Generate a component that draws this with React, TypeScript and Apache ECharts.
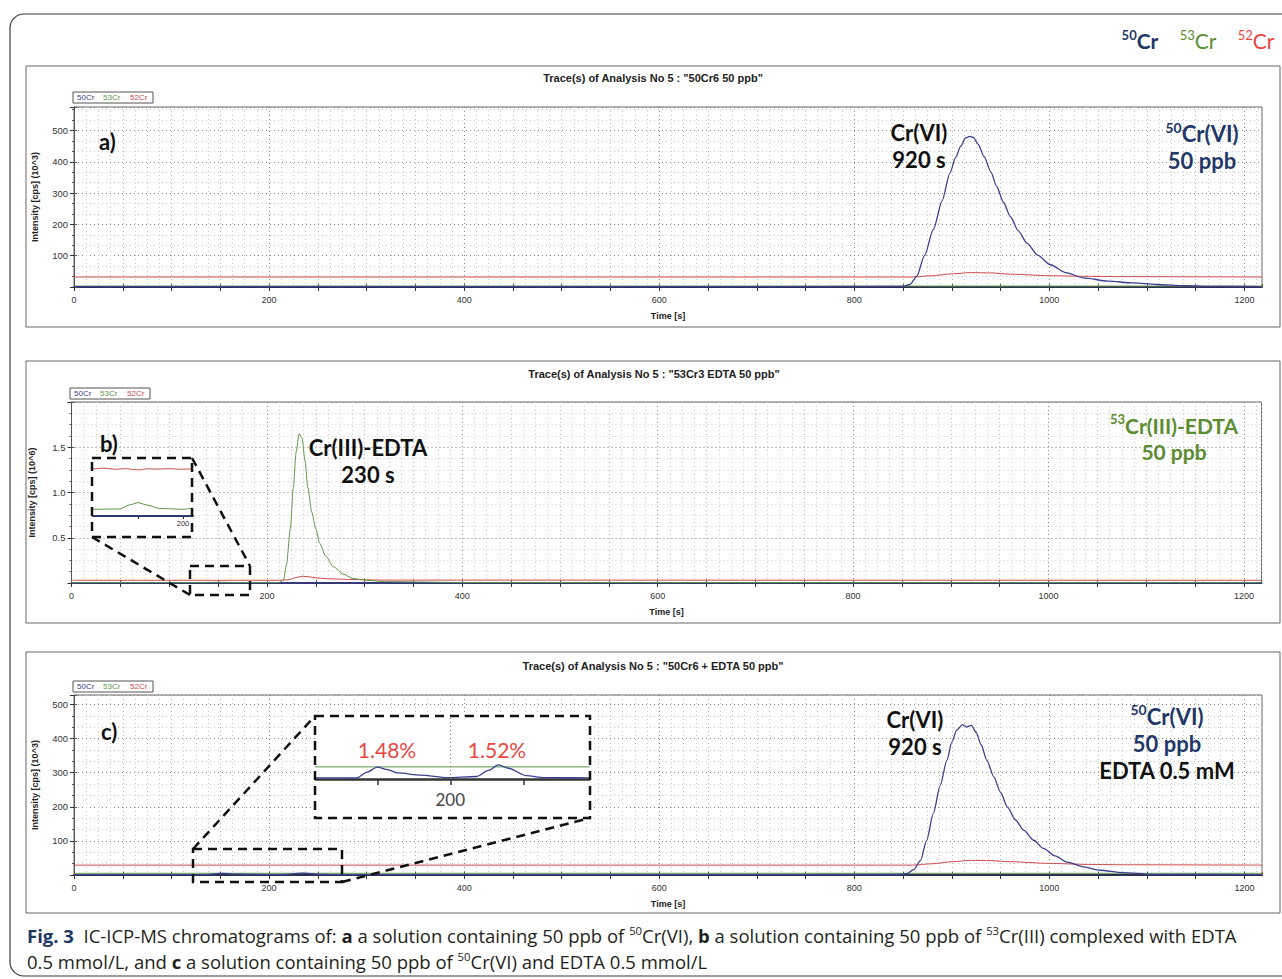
import React, { useEffect, useRef } from "react";
import * as echarts from "echarts";

const W = 1282;
const H = 979;

// ---------------- data ----------------
const X_MAX = 1218;
const X_LABELS = [0, 200, 400, 600, 800, 1000, 1200];
const Y_LABELS_3 = [100, 200, 300, 400, 500];
const Y_LABELS_6 = [0.5, 1.0, 1.5];

// (a) 50Cr(VI) 50 ppb  [10^3 cps]
const aBlueT = [0, 300, 600, 850, 857, 864, 872, 881, 890, 898, 904, 909, 914, 918, 922, 927, 933, 940, 946, 953, 960, 968, 977, 988, 1001, 1017, 1035, 1060, 1086, 1110, 1138, 1170, 1218];
const aBlueV = [1, 1, 1, 2, 8, 34, 100, 183, 275, 364, 415, 449, 476, 481, 478, 456, 417, 368, 321, 270, 225, 180, 140, 102, 71, 46, 29, 19, 13, 8, 4, 2, 1];
const aRedT = [0, 400, 860, 880, 900, 920, 940, 960, 1000, 1040, 1080, 1218];
const aRedV = [32, 32, 32, 36, 42, 46, 45, 41, 36, 34, 33, 32];
const aGreenT = [0, 1218];
const aGreenV = [3, 3];

// (b) 53Cr(III)-EDTA 50 ppb  [10^6 cps]
const bGreenT = [0, 100, 130, 140, 150, 160, 174, 200, 212, 217, 220, 224, 227, 230, 233, 236, 239, 242, 246, 250, 254, 260, 268, 278, 288, 302, 320, 400, 1218];
const bGreenV = [0.0043, 0.0043, 0.0045, 0.007, 0.0085, 0.007, 0.0048, 0.0043, 0.005, 0.03, 0.2, 0.6, 1.05, 1.45, 1.65, 1.6, 1.35, 1.05, 0.78, 0.6, 0.44, 0.3, 0.18, 0.1, 0.05, 0.03, 0.015, 0.006, 0.0043];
const bRedT = [0, 100, 112, 125, 137, 145, 152, 160, 172, 185, 197, 210, 222, 230, 236, 242, 252, 265, 290, 320, 1218];
const bRedV = [0.03, 0.03, 0.0305, 0.0298, 0.0302, 0.0296, 0.0294, 0.0301, 0.0299, 0.0302, 0.0298, 0.03, 0.035, 0.06, 0.075, 0.07, 0.055, 0.045, 0.038, 0.032, 0.03];
const bBlueT = [0, 1218];
const bBlueV = [0, 0];

// (c) 50Cr(VI) + EDTA 0.5 mM  [10^3 cps]
const cBlueT = [0, 108, 136, 143, 150, 157, 164, 180, 198, 218, 226, 233, 240, 252, 264, 300, 600, 845, 854, 861, 868, 874, 881, 888, 895, 900, 905, 911, 915, 920, 925, 930, 936, 943, 950, 957, 965, 974, 984, 994, 1006, 1018, 1035, 1052, 1075, 1104, 1218];
const cBlueV = [1, 1, 1, 3.1, 4.9, 4.0, 2.8, 2.0, 1.1, 1.5, 3.7, 5.7, 4.5, 1.8, 1.1, 1, 1, 1.5, 4, 16, 43, 100, 180, 262, 337, 390, 425, 441, 434, 439, 418, 382, 336, 288, 242, 200, 162, 131, 102, 78, 56, 38, 24, 14, 7, 2, 1];
const cRedT = [0, 400, 860, 880, 900, 920, 940, 960, 1000, 1040, 1080, 1218];
const cRedV = [29, 29, 29, 33, 39, 43, 42, 39, 34, 31, 30, 29];
const cGreenT = [0, 1218];
const cGreenV = [5, 5];

// ---------------- styles ----------------
const C_BLUE = "#3b3f8f";
const C_GREEN = "#5e9648";
const C_RED = "#cc4b4b";
const T_NAVY = "#1f3868";
const T_GREEN = "#5b8c30";
const T_RED = "#e8463f";
const AXF = "'Liberation Sans', Arial, sans-serif";
const F_ANN = "Lato, 'Open Sans', sans-serif";
const F_CAP = "'Open Sans', 'Noto Sans', sans-serif";

const zip = (t: number[], v: number[]) => t.map((x, i) => [x, v[i]]);

const line = (name: string, color: string, t: number[], v: number[], idx: number, width = 1, z = 2) => ({
  type: "line",
  name,
  xAxisIndex: idx,
  yAxisIndex: idx,
  data: zip(t, v),
  showSymbol: false,
  symbol: "none",
  smooth: 0.25,
  smoothMonotone: "x",
  silent: true,
  clip: true,
  z,
  lineStyle: { color, width },
});

function xMain(gridIndex: number) {
  return {
    type: "value",
    gridIndex,
    min: 0,
    max: X_MAX,
    interval: 50,
    axisLine: { show: true, onZero: false, lineStyle: { color: "#2f2f4f", width: 2 } },
    axisTick: { show: true, length: 4, lineStyle: { color: "#333" } },
    axisLabel: {
      show: true,
      interval: 0,
      showMaxLabel: false,
      formatter: (v: number) => (X_LABELS.includes(v) ? String(v) : ""),
      color: "#333",
      fontSize: 9,
      fontFamily: AXF,
      margin: 8,
    },
    splitLine: {
      show: true,
      lineStyle: { color: ["#858585", "#b8b8b8", "#b8b8b8", "#b8b8b8"], type: [1, 3], width: 1 },
    },
    minorTick: { show: false, splitNumber: 4 },
    minorSplitLine: { show: true, lineStyle: { color: "#c8c8c8", type: [1, 3], width: 1 } },
    name: "Time [s]",
    nameLocation: "middle",
    nameGap: 24,
    nameTextStyle: { fontSize: 9, fontWeight: "bold", color: "#222", fontFamily: AXF },
    z: 0,
  };
}

function xTop(gridIndex: number) {
  return {
    type: "value",
    gridIndex,
    position: "top",
    min: 0,
    max: X_MAX,
    interval: 50,
    axisLine: { show: false },
    axisTick: { show: true, length: 3, lineStyle: { color: "#555" } },
    axisLabel: { show: false },
    splitLine: { show: false },
  };
}

function yMain(gridIndex: number, max: number, interval: number, minorSplit: number, name: string, labels: number[], digits: number) {
  return {
    type: "value",
    gridIndex,
    min: 0,
    max,
    interval,
    axisLine: { show: true, lineStyle: { color: "#555", width: 1 } },
    axisTick: { show: true, length: 4, lineStyle: { color: "#333" } },
    minorTick: { show: true, splitNumber: minorSplit, length: 2, lineStyle: { color: "#555" } },
    axisLabel: {
      show: true,
      showMaxLabel: false,
      formatter: (v: number) => {
        const hit = labels.some((l) => Math.abs(l - v) < 1e-6);
        return hit ? v.toFixed(digits) : "";
      },
      color: "#333",
      fontSize: 9.5,
      fontFamily: AXF,
      margin: 6,
    },
    splitLine: { show: true, lineStyle: { color: "#858585", type: [1, 3], width: 1 } },
    minorSplitLine: { show: true, lineStyle: { color: "#c8c8c8", type: [1, 3], width: 1 } },
    name,
    nameLocation: "middle",
    nameGap: 35,
    nameRotate: 90,
    nameTextStyle: { fontSize: 9, fontWeight: "bold", color: "#222", fontFamily: AXF },
    z: 0,
  };
}

function yRight(gridIndex: number, max: number, interval: number) {
  return {
    type: "value",
    gridIndex,
    position: "right",
    min: 0,
    max,
    interval,
    axisLine: { show: false },
    axisTick: { show: true, length: 3, lineStyle: { color: "#555" } },
    axisLabel: { show: false },
    splitLine: { show: false },
  };
}

const txt = (x: number, y: number, text: string, style: any, z = 20) => ({
  type: "text",
  x,
  y,
  z,
  silent: true,
  style: { text, align: "center", verticalAlign: "middle", ...style },
});

// multi-line annotation block: lines are rich strings
const block = (x: number, y: number, lines: string[], size: number, lh: number, colors: Record<string, string>) => {
  const rich: Record<string, any> = {};
  Object.keys(colors).forEach((k) => {
    rich[k] = { fill: colors[k], fontSize: size, fontWeight: "bold", fontFamily: F_ANN, lineHeight: lh };
    rich[k + "s"] = { fill: colors[k], fontSize: Math.round(size * 0.62), fontWeight: "bold", fontFamily: F_ANN, verticalAlign: "top", lineHeight: Math.round(size * 0.8) };
  });
  return txt(x, y, lines.join("\n"), { rich });
};

const legendSup = (x: number, y: number, sup: string, fill: string, weight: string) =>
  txt(x, y, `{s|${sup}}{m|Cr}`, {
    rich: {
      s: { fill, fontSize: 13, fontWeight: weight, fontFamily: F_ANN, verticalAlign: "top", lineHeight: 16 },
      m: { fill, fontSize: 21, fontWeight: weight, fontFamily: F_ANN, lineHeight: 23 },
    },
  });

const rect = (x: number, y: number, w: number, h: number, style: any, z = 1) => ({
  type: "rect",
  z,
  silent: true,
  shape: { x, y, width: w, height: h },
  style,
});

const dashStyle = { fill: "none", stroke: "#111", lineWidth: 2.5, lineDash: [9, 6] };
const seg = (x1: number, y1: number, x2: number, y2: number) => ({
  type: "line",
  z: 25,
  silent: true,
  shape: { x1, y1, x2, y2 },
  style: dashStyle,
});

const legendBox = (x: number, y: number) => [
  rect(x, y, 80, 11, { fill: "#fff", stroke: "#555", lineWidth: 1 }, 5),
  txt(x + 4, y + 5.5, "50Cr", { fill: C_BLUE, fontSize: 8, fontFamily: AXF, align: "left" }),
  txt(x + 30, y + 5.5, "53Cr", { fill: C_GREEN, fontSize: 8, fontFamily: AXF, align: "left" }),
  txt(x + 57, y + 5.5, "52Cr", { fill: C_RED, fontSize: 8, fontFamily: AXF, align: "left" }),
];

function measure(parts: [string, string][]) {
  const ctx = document.createElement("canvas").getContext("2d");
  if (!ctx) return 1;
  let w = 0;
  for (const [t, f] of parts) {
    ctx.font = f;
    w += ctx.measureText(t).width;
  }
  return w;
}

function captionElements() {
  const S = 18;
  const SS = 11;
  const fN = `normal ${S}px ${F_CAP}`;
  const fB = `bold ${S}px ${F_CAP}`;
  const fS = `normal ${SS}px ${F_CAP}`;
  const l1: [string, string, string][] = [
    ["f", "Fig. 3", fB],
    ["n", "  IC-ICP-MS chromatograms of: ", fN],
    ["b", "a", fB],
    ["n", " a solution containing 50 ppb of ", fN],
    ["s", "50", fS],
    ["n", "Cr(VI), ", fN],
    ["b", "b", fB],
    ["n", " a solution containing 50 ppb of ", fN],
    ["s", "53", fS],
    ["n", "Cr(III) complexed with EDTA", fN],
  ];
  const l2: [string, string, string][] = [
    ["n", "0.5 mmol/L, and ", fN],
    ["b", "c", fB],
    ["n", " a solution containing 50 ppb of ", fN],
    ["s", "50", fS],
    ["n", "Cr(VI) and EDTA 0.5 mmol/L", fN],
  ];
  const w1 = measure(l1.map((p) => [p[1], p[2]] as [string, string]));
  const scale = w1 > 0 ? 1210 / w1 : 1;
  const rich = {
    f: { fill: "#1c3763", fontSize: S, fontWeight: "bold", fontFamily: F_CAP, lineHeight: 22 },
    n: { fill: "#231f20", fontSize: S, fontFamily: F_CAP, lineHeight: 22 },
    b: { fill: "#231f20", fontSize: S, fontWeight: "bold", fontFamily: F_CAP, lineHeight: 22 },
    s: { fill: "#231f20", fontSize: SS, fontFamily: F_CAP, lineHeight: 14, verticalAlign: "top" },
  };
  const mk = (parts: [string, string, string][]) => parts.map((p) => `{${p[0]}|${p[1]}}`).join("");
  return [
    { type: "text", x: 27, y: 936, z: 20, scaleX: scale, silent: true, style: { text: mk(l1), rich, align: "left", verticalAlign: "middle" } },
    { type: "text", x: 27, y: 962, z: 20, scaleX: scale, silent: true, style: { text: mk(l2), rich, align: "left", verticalAlign: "middle" } },
  ];
}

function buildOption() {
  const gridBase = { show: true, borderColor: "#666", borderWidth: 1, backgroundColor: "transparent" };
  const grids = [
    { left: 74, top: 107, width: 1188, height: 180, ...gridBase },
    { left: 71.5, top: 402, width: 1190, height: 181, ...gridBase },
    { left: 74, top: 695, width: 1188, height: 180, ...gridBase },
    { left: 93, top: 460, width: 99, height: 56, show: false },
    { left: 316, top: 717, width: 273, height: 62, show: false },
  ];

  const xAxes: any[] = [
    xMain(0),
    xMain(1),
    xMain(2),
    {
      type: "value",
      gridIndex: 3,
      min: 100,
      max: 210,
      z: 3,
      axisLine: { show: true, onZero: false, lineStyle: { color: "#222", width: 2 } },
      axisTick: { show: true, length: 3, customValues: [150, 200], lineStyle: { color: "#222" } },
      axisLabel: { show: true, customValues: [200], fontSize: 7.5, color: "#333", fontFamily: AXF, margin: 3 },
      splitLine: { show: false },
    },
    {
      type: "value",
      gridIndex: 4,
      min: 108,
      max: 295,
      z: 3,
      axisLine: { show: true, onZero: false, lineStyle: { color: "#333", width: 2.5 } },
      axisTick: { show: true, length: 6, customValues: [150, 200, 250], lineStyle: { color: "#333", width: 1.5 } },
      axisLabel: { show: true, customValues: [200], fontSize: 17, color: "#444", fontFamily: F_ANN, margin: 12 },
      splitLine: { show: false },
    },
    xTop(0),
    xTop(1),
    xTop(2),
  ];

  const yAxes: any[] = [
    yMain(0, 575, 100, 3, "Intensity [cps] (10^3)", Y_LABELS_3, 0),
    yMain(1, 2.0, 0.5, 4, "Intensity [cps] (10^6)", Y_LABELS_6, 1),
    yMain(2, 528, 100, 3, "Intensity [cps] (10^3)", Y_LABELS_3, 0),
    { type: "value", gridIndex: 3, min: 0, max: 0.0357, show: false, z: 3 },
    { type: "value", gridIndex: 4, min: 0.6, max: 23.1, show: false, z: 3 },
    yRight(0, 575, 100),
    yRight(1, 2.0, 0.5),
    yRight(2, 528, 100),
  ];

  const series: any[] = [
    line("52Cr a", C_RED, aRedT, aRedV, 0),
    line("53Cr a", C_GREEN, aGreenT, aGreenV, 0),
    line("50Cr a", C_BLUE, aBlueT, aBlueV, 0, 1.3),
    line("52Cr b", C_RED, bRedT, bRedV, 1),
    line("50Cr b", C_BLUE, bBlueT, bBlueV, 1, 1.5),
    line("53Cr b", C_GREEN, bGreenT, bGreenV, 1),
    line("52Cr c", C_RED, cRedT, cRedV, 2),
    line("53Cr c", C_GREEN, cGreenT, cGreenV, 2),
    line("50Cr c", C_BLUE, cBlueT, cBlueV, 2, 1.3),
    line("52Cr b inset", C_RED, bRedT, bRedV, 3, 1, 4),
    line("53Cr b inset", C_GREEN, bGreenT, bGreenV, 3, 1, 4),
    line("50Cr b inset", C_BLUE, bBlueT, bBlueV, 3, 1.5, 4),
    {
      ...line("53Cr c inset", C_GREEN, cGreenT, cGreenV, 4, 1, 4),
      markLine: {
        silent: true,
        symbol: "none",
        label: { show: false },
        lineStyle: { color: "#777", type: [1, 3], width: 1 },
        data: [{ xAxis: 200 }],
      },
    },
    line("50Cr c inset", C_BLUE, cBlueT, cBlueV, 4, 1.3, 4),
  ];

  const titleStyle = { fill: "#222", fontSize: 11, fontWeight: "bold", fontFamily: AXF };
  const panelBox = { fill: "none", stroke: "#666", lineWidth: 1 };
  const labelStyle = { fill: "#111", fontSize: 22, fontWeight: "bold", fontFamily: F_ANN, align: "left" };

  const graphic: any[] = [
    { type: "rect", z: 0, silent: true, shape: { x: 10, y: 14, width: 1300, height: 962, r: 14 }, style: { fill: "none", stroke: "#3a3a3a", lineWidth: 1.2 } },
    rect(26, 66, 1254, 261, panelBox, 0),
    rect(26, 361, 1254, 262, panelBox, 0),
    rect(26, 652, 1254, 261, panelBox, 0),
    txt(653, 78, 'Trace(s) of Analysis No 5 : "50Cr6 50 ppb"', titleStyle),
    txt(654, 374, 'Trace(s) of Analysis No 5 : "53Cr3 EDTA 50 ppb"', titleStyle),
    txt(653, 666, 'Trace(s) of Analysis No 5 : "50Cr6 + EDTA 50 ppb"', titleStyle),
    ...legendBox(73, 92),
    ...legendBox(70, 388),
    ...legendBox(73, 681),

    // top-right isotope legend
    legendSup(1140, 40, "50", T_NAVY, "bold"),
    legendSup(1198, 40, "53", T_GREEN, "normal"),
    legendSup(1256, 40, "52", T_RED, "normal"),

    // panel a
    txt(99, 141, "a)", labelStyle),
    block(919, 146, ["{k|Cr(VI)}", "{k|920 s}"], 22, 27, { k: "#111" }),
    block(1202, 147, ["{ns|50}{n|Cr(VI)}", "{n|50 ppb}"], 22, 27, { n: T_NAVY }),

    // panel b
    txt(100, 443, "b)", labelStyle),
    block(368, 461, ["{k|Cr(III)-EDTA}", "{k|230 s}"], 22, 27, { k: "#111" }),
    block(1174, 438, ["{gs|53}{g|Cr(III)-EDTA}", "{g|50 ppb}"], 21, 26, { g: T_GREEN }),
    rect(92, 458, 100, 79, { fill: "#fff", stroke: "none" }, 1),
    rect(92, 458, 100, 79, dashStyle, 25),
    rect(190, 566, 60, 29, dashStyle, 25),
    seg(92, 537, 190, 595),
    seg(192, 458, 250, 566),

    // panel c
    txt(101, 731, "c)", labelStyle),
    block(915, 733, ["{k|Cr(VI)}", "{k|920 s}"], 22, 27, { k: "#111" }),
    block(1167, 743, ["{ns|50}{n|Cr(VI)}", "{n|50 ppb}", "{k|EDTA 0.5 mM}"], 22, 27, { n: T_NAVY, k: "#111" }),
    rect(315, 716, 275, 102, { fill: "#fff", stroke: "none" }, 1),
    rect(315, 716, 275, 102, dashStyle, 25),
    rect(193, 849, 149, 33, dashStyle, 25),
    seg(193, 849, 315, 716),
    seg(342, 882, 590, 818),
    txt(387, 749, "1.48%", { fill: T_RED, fontSize: 21, fontFamily: F_ANN }),
    txt(497, 749, "1.52%", { fill: T_RED, fontSize: 21, fontFamily: F_ANN }),

    ...captionElements(),
  ];

  return {
    animation: false,
    backgroundColor: "#fff",
    grid: grids,
    xAxis: xAxes,
    yAxis: yAxes,
    series,
    graphic: { elements: graphic },
  };
}

export default function App() {
  const ref = useRef<HTMLDivElement>(null);
  useEffect(() => {
    if (!ref.current) return;
    const chart = echarts.init(ref.current, null, { renderer: "svg", width: W, height: H });
    chart.setOption(buildOption() as any);
    return () => chart.dispose();
  }, []);
  return <div ref={ref} style={{ position: "absolute", left: 0, top: 0, width: W, height: H, background: "#fff" }} />;
}
